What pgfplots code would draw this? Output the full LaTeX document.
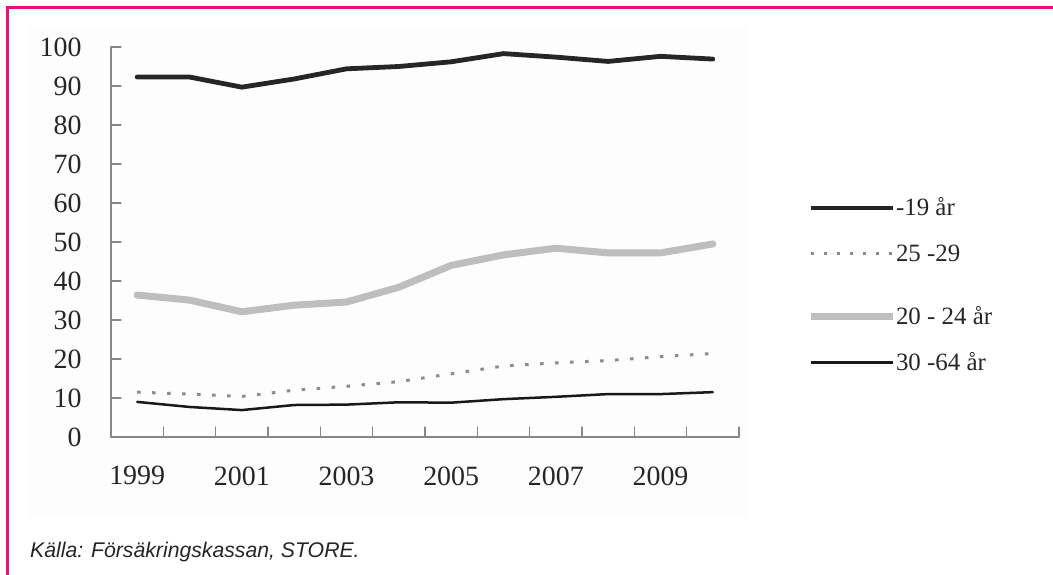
\documentclass[border=0pt]{standalone}
\usepackage{pgfplots}
\pgfplotsset{compat=1.18}
\usepackage{fontspec}
\setmainfont{Liberation Serif}
\newfontfamily\srcfont{Liberation Sans}
\definecolor{pinkb}{RGB}{232,16,128}
\definecolor{darkl}{RGB}{38,38,38}
\definecolor{grayl}{RGB}{190,190,190}
\definecolor{dotl}{RGB}{140,140,140}
\definecolor{thinl}{RGB}{25,25,25}
\definecolor{axgray}{RGB}{135,135,135}
\definecolor{bgl}{RGB}{253,253,253}
\begin{document}
\begin{tikzpicture}[x=1bp,y=1bp]
\useasboundingbox (0,0) rectangle (1053,575);
\fill[white] (0,0) rectangle (1053,575);
\fill[bgl] (27,58) rectangle (747,548);
\draw[pinkb, line width=3bp] (7,0) -- (7,567) -- (1053,567);
\begin{axis}[
  at={(111bp,138bp)}, anchor=south west,
  scale only axis, width=628bp, height=390bp,
  xmin=1998.5, xmax=2010.5, ymin=0, ymax=100,
  axis lines*=left,
  axis line style={axgray, line width=1.5bp},
  every inner x axis line/.append style={-},
  every inner y axis line/.append style={-},
  tick align=inside,
  xtick={1999,2001,...,2009},
  minor xtick={1998.5,1999.5,...,2010.5},
  x tick style={draw=none},
  minor x tick style={draw=axgray, line width=1.2bp},
  minor tick length=10bp,
  ytick={0,10,...,100},
  y tick style={draw=axgray, line width=1.2bp},
  major tick length=10bp,
  xticklabel={\pgfmathprintnumber[1000 sep={}]{\tick}},
  /pgf/number format/assume math mode=true,
  /pgf/number format/1000 sep={},
  xticklabel style={font=\fontsize{28}{28}\selectfont, yshift=-26bp, text=black!85},
  yticklabel style={font=\fontsize{28}{28}\selectfont, xshift=-26bp, text=black!85},
  clip=false,
  line join=round, line cap=round,
  legend style={at={(1,0.6154)}, anchor=north west, xshift=68bp, draw=none, fill=none,
    inner sep=0pt, outer sep=0pt, row sep=25bp, column sep=0bp,
    font=\fontsize{25}{25}\selectfont, text=black!85,
    nodes={inner sep=0pt, anchor=base west}},
  legend cell align=left,
  legend image code/.code={\draw[#1, line cap=butt] (0bp,8bp) -- (82bp,8bp);},
]
\addplot[grayl, line width=7bp, forget plot] coordinates {
(1999,36.4) (2000,35.1) (2001,32.1) (2002,33.8) (2003,34.6) (2004,38.4)
(2005,44.0) (2006,46.7) (2007,48.4) (2008,47.2) (2009,47.2) (2010,49.5)};
\addplot[darkl, line width=4.8bp] coordinates {
(1999,92.3) (2000,92.3) (2001,89.7) (2002,91.8) (2003,94.4) (2004,95.0)
(2005,96.2) (2006,98.3) (2007,97.4) (2008,96.3) (2009,97.6) (2010,96.9)};
\addlegendentry{\rule{0pt}{19bp}-19 år}
\addlegendimage{dotl, line width=2.2bp, dash pattern=on 3bp off 10bp}
\addlegendentry{\rule{0pt}{19bp}25 -29}
\addlegendimage{grayl, line width=7bp}
\addlegendentry{\rule{0pt}{37bp}20 - 24 år}
\addplot[dotl, line width=3bp, dash pattern=on 3.5bp off 11.5bp, line cap=butt, forget plot] coordinates {
(1999,11.5) (2000,11.0) (2001,10.4) (2002,12.0) (2003,13.0) (2004,14.2)
(2005,16.2) (2006,18.2) (2007,19.0) (2008,19.6) (2009,20.6) (2010,21.4)};
\addplot[thinl, line width=2.5bp] coordinates {
(1999,9.0) (2000,7.7) (2001,6.9) (2002,8.2) (2003,8.3) (2004,8.9)
(2005,8.8) (2006,9.7) (2007,10.3) (2008,11.0) (2009,11.0) (2010,11.5)};
\addlegendentry{\rule{0pt}{19bp}30 -64 år}
\end{axis}
\node[anchor=base west, inner sep=0pt, font=\srcfont\itshape\fontsize{21.3}{21.3}\selectfont, text=black!85] at (30,17) {Källa: Försäkringskassan, STORE.};
\end{tikzpicture}
\end{document}
